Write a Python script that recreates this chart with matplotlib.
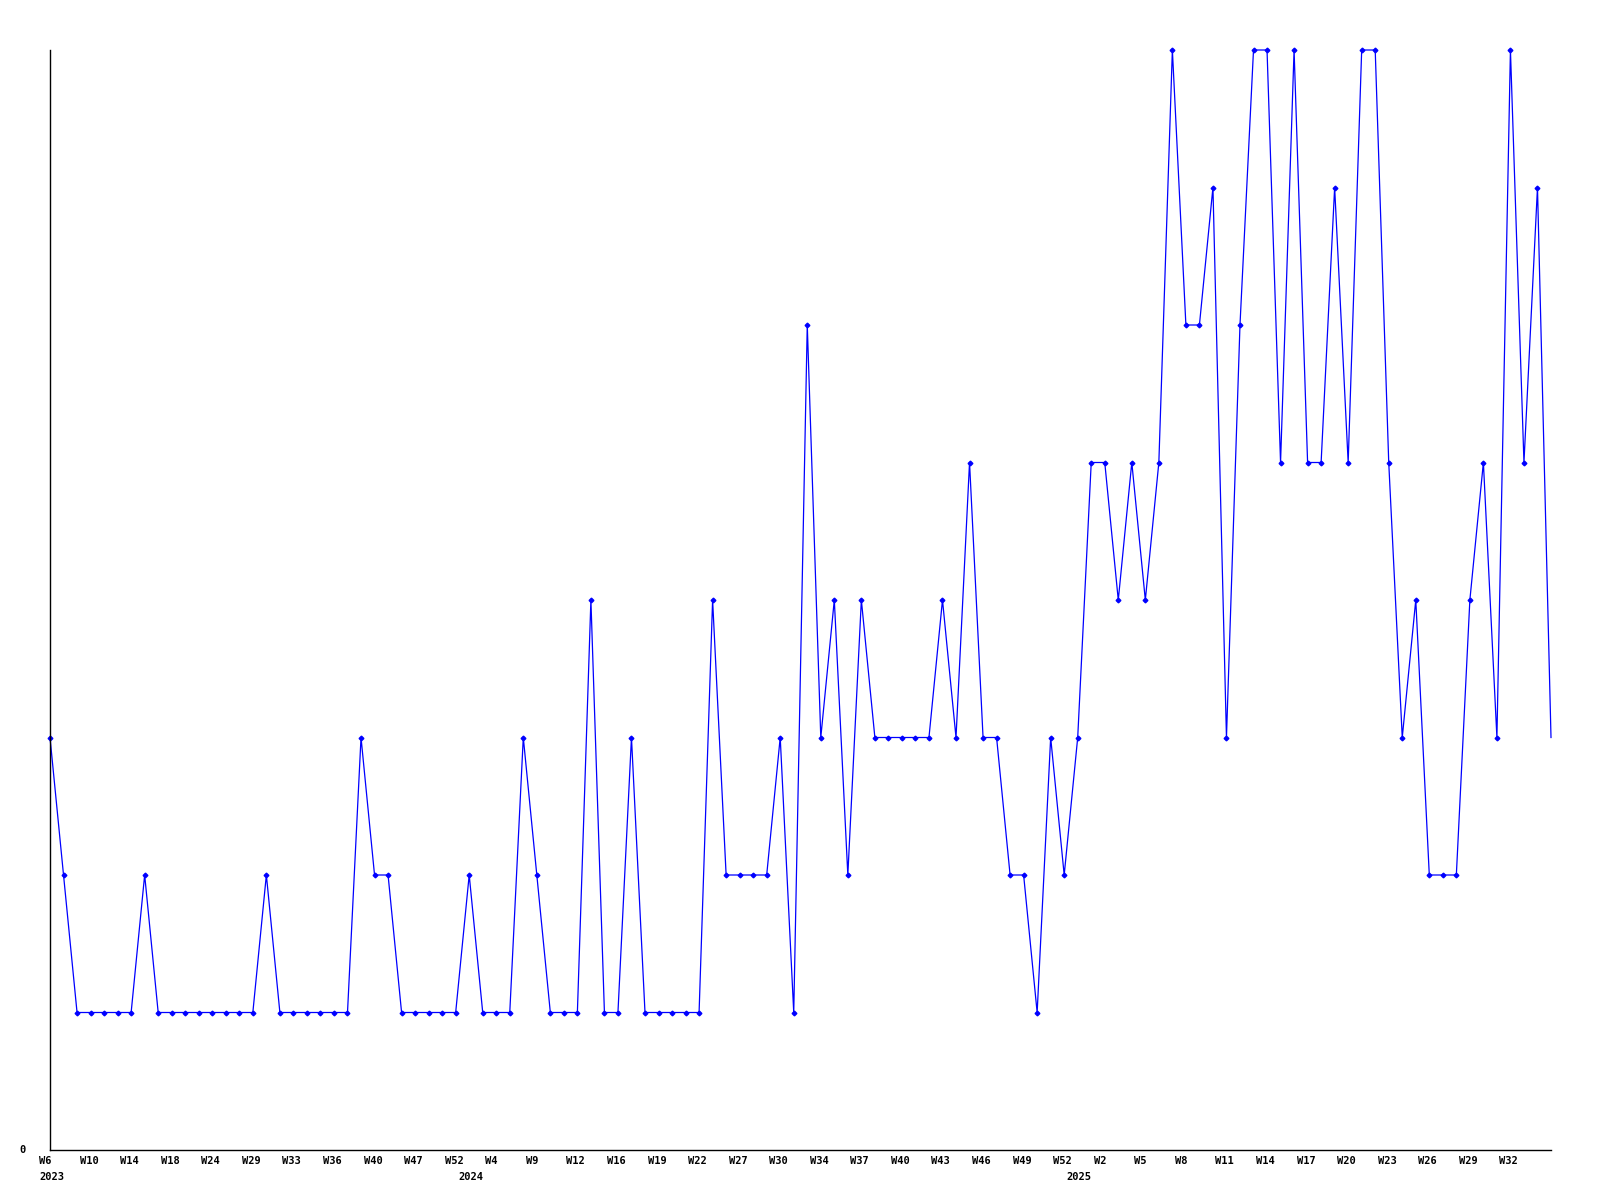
import matplotlib
matplotlib.use("Agg")
import matplotlib.pyplot as plt
import matplotlib.transforms as mtransforms
import numpy as np

# ── data ─────────────────────────────────────────────────────────────────────
values = [
    3, 2, 1, 1, 1, 1, 1, 2, 1, 1, 1, 1, 1, 1, 1, 1, 2, 1, 1, 1,
    1, 1, 1, 3, 2, 2, 1, 1, 1, 1, 1, 2, 1, 1, 1, 3, 2, 1, 1, 1,
    4, 1, 1, 3, 1, 1, 1, 1, 1, 4, 2, 2, 2, 2, 3, 1, 6, 3, 4, 2,
    4, 3, 3, 3, 3, 3, 4, 3, 5, 3, 3, 2, 2, 1, 3, 2, 3, 5, 5, 4,
    5, 4, 5, 8, 6, 6, 7, 3, 6, 8, 8, 5, 8, 5, 5, 7, 5, 8, 8, 5,
    3, 4, 2, 2, 2, 4, 5, 3, 8, 5, 7, 3,
]
week_labels = [
    "W6", "W10", "W14", "W18", "W24", "W29", "W33", "W36", "W40", "W47",
    "W52", "W4", "W9", "W12", "W16", "W19", "W22", "W27", "W30", "W34",
    "W37", "W40", "W43", "W46", "W49", "W52", "W2", "W5", "W8", "W11",
    "W14", "W17", "W20", "W23", "W26", "W29", "W32",
]
label_step = 3
years = ["2023", "2024", "2025"]
year_start = [0, 31, 76]

# ── figure ───────────────────────────────────────────────────────────────────
BLUE = "#0000ff"
FONT = dict(family="DejaVu Sans Mono", fontweight="bold", fontsize=7.5, color="black")

fig = plt.figure(figsize=(16, 12), dpi=100, facecolor="white")
ax = fig.add_axes([50 / 1600, 50 / 1200, 1501 / 1600, 1100 / 1200])

x = np.arange(len(values))
ax.plot(x, values, color=BLUE, linewidth=0.9, marker="D", markersize=2.4,
        markerfacecolor=BLUE, markeredgecolor=BLUE,
        markevery=list(range(len(values) - 1)), clip_on=False)

ax.set_xlim(0, len(values) - 1)
ax.set_ylim(0, 8)

for side in ("top", "right"):
    ax.spines[side].set_visible(False)
for side in ("left", "bottom"):
    ax.spines[side].set_color("black")
    ax.spines[side].set_linewidth(1.0)

ax.set_xticks([])
ax.set_yticks([])

# x labels: left-aligned a little before their point
base = ax.get_xaxis_transform()
week_tr = mtransforms.offset_copy(base, fig=fig, x=-11, y=-11, units="dots")
year_tr = mtransforms.offset_copy(base, fig=fig, x=-11, y=-27, units="dots")
for i, lab in enumerate(week_labels):
    ax.text(i * label_step, 0, lab, transform=week_tr, ha="left", va="center", **FONT)
for yr, idx in zip(years, year_start):
    ax.text(idx, 0, yr, transform=year_tr, ha="left", va="center", **FONT)

# single y label
y_tr = mtransforms.offset_copy(ax.get_yaxis_transform(), fig=fig, x=-24, y=0, units="dots")
ax.text(0, 0, "0", transform=y_tr, ha="right", va="center", **FONT)

fig.savefig("out.png", dpi=100, facecolor="white")
